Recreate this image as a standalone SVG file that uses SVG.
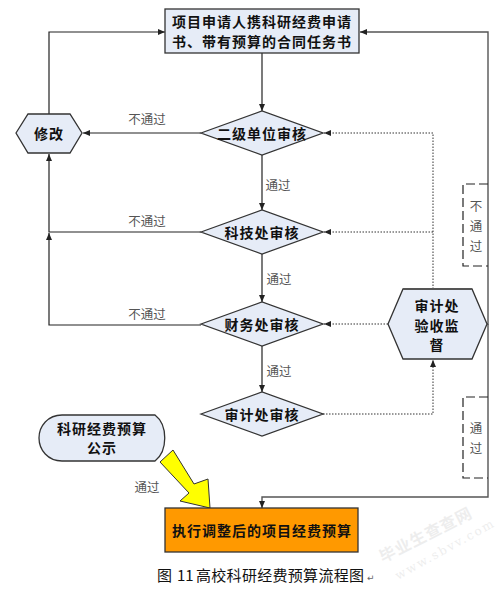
<svg xmlns="http://www.w3.org/2000/svg" width="499" height="589" viewBox="0 0 499 589">
<style>
.node{fill:#E6ECF7;stroke:#333;stroke-width:1.3}
.t{font-family:"Noto Sans CJK SC","Noto Sans CJK JP",sans-serif;font-weight:bold;font-size:14px;fill:#111;text-anchor:middle;dominant-baseline:central;letter-spacing:1px}
.lbl{font-family:"Noto Sans CJK SC","Noto Sans CJK JP",sans-serif;font-size:12.5px;fill:#555;text-anchor:middle;dominant-baseline:central}
.cap{font-family:"Noto Sans CJK SC","Noto Sans CJK JP",sans-serif;font-size:15px;fill:#111}
.ln{fill:none;stroke:#222;stroke-width:1.2}
.rl{fill:none;stroke:#555;stroke-width:1.4}
.dot{fill:none;stroke:#333;stroke-width:1;stroke-dasharray:1.5,1.5}
.br{fill:none;stroke:#222;stroke-width:1.2;stroke-dasharray:9,4}
</style>
<defs>
<marker id="a" markerUnits="userSpaceOnUse" markerWidth="8" markerHeight="8" refX="7" refY="4" orient="auto">
<path d="M0,1 L7,4 L0,7 Z" fill="#222"/>
</marker>
</defs>
<rect width="499" height="589" fill="#fff"/>
<g id="connectors">
<path class="ln" d="M262,53 V111" marker-end="url(#a)"/>
<path class="ln" d="M262,155 V210" marker-end="url(#a)"/>
<path class="ln" d="M262,254 V302" marker-end="url(#a)"/>
<path class="ln" d="M262,346 V392" marker-end="url(#a)"/>
<path class="ln" d="M201,133 H83" marker-end="url(#a)"/>
<path class="ln" d="M201,232 H49 V154" marker-end="url(#a)"/>
<path class="ln" d="M201,325 H49 V233" marker-end="url(#a)"/>
<path class="ln" d="M49,114 V32 H165" marker-end="url(#a)"/>
<path class="rl" d="M487,324 H488 V32 H360" marker-end="url(#a)"/>
<path class="rl" d="M488,324 V497 H262 V508" marker-end="url(#a)"/>
<path class="dot" d="M433,289 V133 H324" marker-end="url(#a)"/>
<path class="dot" d="M433,232 H324" marker-end="url(#a)"/>
<path class="dot" d="M388,324 H324" marker-end="url(#a)"/>
<path class="dot" d="M323,414 H433 V360" marker-end="url(#a)"/>
<path class="br" d="M488,184 H463 V266 H488"/>
<path class="br" d="M488,397 H463 V478 H488"/>
<text class="lbl" x="147" y="118">不通过</text>
<text class="lbl" x="147" y="220">不通过</text>
<text class="lbl" x="147" y="313">不通过</text>
<text class="lbl" x="278" y="184">通过</text>
<text class="lbl" x="279" y="278">通过</text>
<text class="lbl" x="279" y="370">通过</text>
<text class="lbl" x="476" y="205">不</text>
<text class="lbl" x="476" y="225">通</text>
<text class="lbl" x="476" y="245">过</text>
<text class="lbl" x="476" y="427">通</text>
<text class="lbl" x="476" y="447">过</text>
<text class="lbl" x="147" y="486">通过</text>
</g>
<g id="n-apply">
<rect class="node" x="165" y="9" width="194" height="44"/>
<text class="t" x="262" y="21">项目申请人携科研经费申请</text>
<text class="t" x="262" y="41">书、带有预算的合同任务书</text>
</g>
<g id="n-d1">
<polygon class="node" points="201,133 262,111 323,133 262,155"/>
<text class="t" x="262" y="133">二级单位审核</text>
</g>
<g id="n-d2">
<polygon class="node" points="201,232 262,210 323,232 262,254"/>
<text class="t" x="262" y="232">科技处审核</text>
</g>
<g id="n-d3">
<polygon class="node" points="201,324 262,302 323,324 262,346"/>
<text class="t" x="262" y="324">财务处审核</text>
</g>
<g id="n-d4">
<polygon class="node" points="201,414 262,392 323,414 262,436"/>
<text class="t" x="262" y="414">审计处审核</text>
</g>
<g id="n-modify">
<polygon class="node" points="16,133 28,114 70,114 82,133 70,153 28,153"/>
<text class="t" x="49" y="133">修改</text>
</g>
<g id="n-audit">
<polygon class="node" points="388,324 403,289 472,289 487,324 472,359 403,359"/>
<line x1="403" y1="289" x2="472" y2="289" stroke="#555" stroke-width="2"/>
<text class="t" x="437" y="305">审计处</text>
<text class="t" x="437" y="325">验收监</text>
<text class="t" x="437" y="344">督</text>
</g>
<g id="n-public">
<path class="node" d="M62,415 L155,415 C168,425 168,451 155,461 L62,461 C48,461 39,450 39,438 C39,426 48,415 62,415 Z"/>
<text class="t" x="102" y="428">科研经费预算</text>
<text class="t" x="102" y="447">公示</text>
</g>
<g id="n-bolt">
<polygon points="160,462 173,450 194,484 208,479 210,508 180,501 189,493" fill="#FFFF00" stroke="#333" stroke-width="1"/>
</g>
<g id="n-exec">
<rect x="165" y="508" width="193" height="44" fill="#FF9900" stroke="#333" stroke-width="1.3"/>
<text class="t" x="262" y="530">执行调整后的项目经费预算</text>
</g>
<g id="caption">
<text class="cap" x="157" y="581">图</text>
<text class="cap" x="177" y="581">11</text>
<text class="cap" x="196" y="581" textLength="168" lengthAdjust="spacing">高校科研经费预算流程图</text>
<text x="367" y="581" font-family="'DejaVu Sans',sans-serif" font-size="9" fill="#666">↵</text>
</g>
<g id="watermark" opacity="0.25">
<text x="383" y="563" transform="rotate(-27 383 563)" font-family="'Noto Sans CJK SC',sans-serif" font-weight="bold" font-size="16" fill="#bbb" letter-spacing="1">毕业生查查网</text>
<text x="398" y="580" transform="rotate(-29 398 580)" font-family="'DejaVu Serif',serif" font-size="12" fill="#bbb" letter-spacing="2">www.sbvv.com</text>
</g>
</svg>
